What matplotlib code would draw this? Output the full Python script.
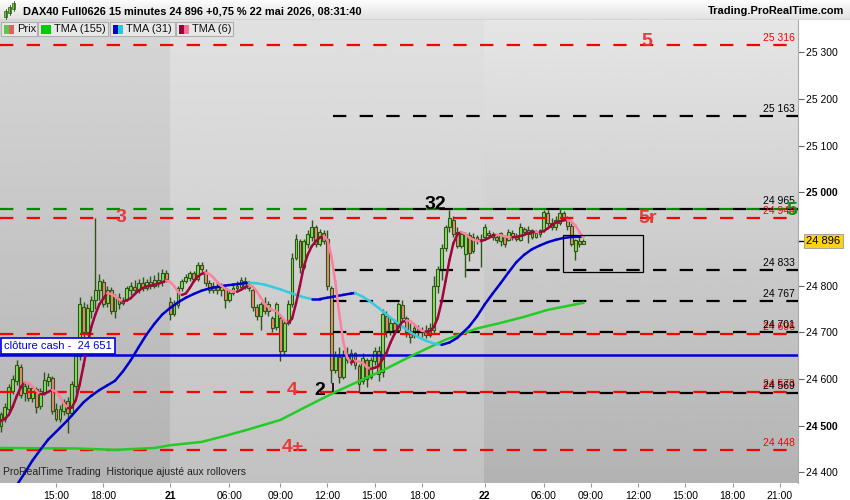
import numpy as np
import pandas as pd
import matplotlib
matplotlib.use("Agg")
import matplotlib.pyplot as plt
from matplotlib.collections import LineCollection
from matplotlib.patches import Rectangle

plt.rcParams['font.family'] = ['Liberation Sans', 'DejaVu Sans']

# DAX40 15 minutes, bar 0 = 20 mai 11:15 ... last bar = 22 mai 08:30
opens = [24495, 24500, 24515, 24535, 24575, 24595, 24625, 24570, 24580, 24560,
         24578, 24542, 24572, 24596, 24602, 24535, 24515, 24532, 24552, 24528,
         24585, 24650, 24755, 24700, 24745, 24770, 24790, 24808, 24762, 24790,
         24745, 24775, 24762, 24772, 24790, 24798, 24790, 24805, 24795, 24808,
         24800, 24812, 24808, 24826, 24765, 24740, 24758, 24795, 24810, 24816,
         24826, 24815, 24845, 24830, 24805, 24790, 24800, 24790, 24795, 24770,
         24785, 24795, 24798, 24810, 24800, 24790, 24755, 24735, 24760, 24745,
         24730, 24712, 24730, 24660, 24720, 24760, 24860, 24895, 24840, 24890,
         24905, 24925, 24890, 24912, 24900, 24795, 24620, 24648, 24605, 24650,
         24640, 24655, 24628, 24595, 24640, 24605, 24638, 24660, 24615, 24735,
         24700, 24720, 24705, 24758, 24730, 24702, 24695, 24710, 24700, 24705,
         24695, 24705, 24800, 24835, 24880, 24925, 24940, 24915, 24885, 24868,
         24908, 24875, 24903, 24895, 24905, 24912, 24908, 24903, 24895, 24905,
         24898, 24912, 24905, 24898, 24922, 24910, 24918, 24905, 24910, 24918,
         24955, 24935, 24925, 24935, 24955, 24942, 24928, 24875, 24895, 24890]
highs = [24515, 24530, 24548, 24590, 24608, 24640, 24632, 24592, 24590, 24588,
         24582, 24580, 24615, 24612, 24606, 24548, 24545, 24558, 24562, 24595,
         24660, 24776, 24765, 24760, 24778, 24945, 24825, 24815, 24800, 24798,
         24782, 24785, 24775, 24800, 24808, 24812, 24815, 24818, 24815, 24820,
         24822, 24830, 24835, 24833, 24775, 24770, 24800, 24815, 24825, 24832,
         24832, 24850, 24850, 24835, 24812, 24808, 24810, 24805, 24800, 24790,
         24805, 24810, 24818, 24818, 24810, 24795, 24760, 24765, 24775, 24768,
         24735, 24765, 24740, 24726, 24770, 24870, 24910, 24900, 24900, 24920,
         24941, 24930, 24922, 24918, 24920, 24800, 24660, 24668, 24662, 24668,
         24665, 24658, 24632, 24655, 24645, 24648, 24668, 24670, 24750, 24745,
         24730, 24728, 24765, 24770, 24735, 24720, 24715, 24715, 24712, 24715,
         24720, 24820, 24842, 24890, 24930, 24962, 24950, 24925, 24915, 24915,
         24915, 24912, 24908, 24910, 24932, 24918, 24915, 24908, 24915, 24908,
         24922, 24918, 24912, 24934, 24926, 24928, 24922, 24918, 24922, 24962,
         24962, 24945, 24948, 24966, 24960, 24948, 24935, 24900, 24904, 24900]
lows = [24478, 24486, 24508, 24530, 24568, 24588, 24560, 24552, 24552, 24550,
        24528, 24535, 24565, 24585, 24525, 24510, 24508, 24522, 24484, 24520,
        24570, 24640, 24690, 24695, 24730, 24750, 24770, 24755, 24755, 24740,
        24730, 24750, 24758, 24768, 24780, 24782, 24785, 24788, 24790, 24792,
        24795, 24798, 24800, 24808, 24726, 24735, 24752, 24788, 24805, 24810,
        24810, 24810, 24830, 24800, 24785, 24785, 24782, 24778, 24752, 24765,
        24780, 24790, 24790, 24793, 24788, 24745, 24726, 24705, 24740, 24735,
        24700, 24705, 24638, 24651, 24715, 24755, 24855, 24828, 24835, 24880,
        24895, 24882, 24885, 24888, 24790, 24591, 24612, 24591, 24600, 24635,
        24630, 24622, 24575, 24590, 24583, 24600, 24630, 24595, 24605, 24690,
        24695, 24698, 24700, 24722, 24690, 24677, 24688, 24692, 24690, 24688,
        24690, 24698, 24785, 24812, 24875, 24915, 24905, 24880, 24880, 24818,
        24852, 24870, 24888, 24840, 24900, 24903, 24898, 24892, 24885, 24882,
        24895, 24898, 24895, 24895, 24910, 24892, 24900, 24902, 24905, 24915,
        24928, 24918, 24920, 24930, 24940, 24920, 24885, 24855, 24882, 24888]
closes = [24505, 24525, 24540, 24583, 24600, 24630, 24565, 24585, 24560, 24580,
          24540, 24575, 24598, 24604, 24532, 24515, 24535, 24550, 24528, 24590,
          24650, 24760, 24700, 24752, 24770, 24790, 24810, 24760, 24790, 24745,
          24775, 24760, 24770, 24795, 24800, 24790, 24805, 24795, 24808, 24800,
          24812, 24805, 24828, 24815, 24740, 24760, 24795, 24810, 24818, 24828,
          24815, 24845, 24835, 24805, 24790, 24800, 24790, 24798, 24770, 24785,
          24795, 24800, 24812, 24800, 24795, 24755, 24735, 24760, 24745, 24760,
          24710, 24760, 24660, 24720, 24760, 24860, 24900, 24840, 24895, 24910,
          24925, 24890, 24915, 24895, 24800, 24620, 24650, 24605, 24650, 24640,
          24655, 24630, 24590, 24645, 24600, 24640, 24660, 24610, 24740, 24700,
          24720, 24705, 24760, 24730, 24700, 24690, 24710, 24700, 24705, 24695,
          24710, 24800, 24835, 24880, 24925, 24945, 24910, 24885, 24910, 24910,
          24870, 24905, 24895, 24900, 24925, 24908, 24905, 24898, 24912, 24890,
          24915, 24905, 24900, 24925, 24915, 24920, 24905, 24912, 24918, 24958,
          24935, 24925, 24940, 24955, 24945, 24928, 24890, 24898, 24888, 24896]

# TMA (31) and TMA (155) at some bars
tma31_bars = [5, 7, 9, 11, 13, 16, 18, 20, 22, 24, 26, 28, 30, 32, 34, 36, 38, 40, 42,
              44, 46, 48, 50, 52, 54, 56, 58, 60, 62, 64, 66, 68, 70, 72, 74, 76, 78,
              80, 82, 84, 86, 88, 90, 91, 93, 95, 97, 99, 101, 103, 105, 107, 109, 111,
              113, 115, 117, 120, 122, 124, 126, 128, 130, 132, 134, 136, 138, 140, 142,
              144, 146, 149]
tma31_vals = [24372, 24398, 24425, 24448, 24470, 24495, 24512, 24531, 24550, 24564,
              24576, 24586, 24596, 24616, 24640, 24668, 24695, 24718, 24738, 24752,
              24764, 24774, 24782, 24789, 24794, 24797, 24800, 24802, 24804, 24806,
              24805, 24802, 24797, 24792, 24786, 24780, 24775, 24771, 24771, 24774,
              24777, 24780, 24783, 24784, 24776, 24765, 24752, 24738, 24725, 24712,
              24700, 24690, 24682, 24676, 24673, 24678, 24688, 24712, 24734, 24760,
              24783, 24805, 24828, 24850, 24866, 24878, 24886, 24893, 24898, 24902,
              24904, 24905]
tma155_bars = [0, 20, 30, 40, 44, 52, 58, 64, 72, 78, 86, 92, 98, 106, 114, 122, 128,
               134, 140, 149]
tma155_vals = [24452, 24451, 24448, 24452, 24458, 24465, 24478, 24492, 24512, 24538,
               24572, 24595, 24618, 24652, 24684, 24708, 24720, 24733, 24748, 24763]

# levels drawn on the chart
red_levels = [25316, 24944, 24696, 24573, 24448]
black_levels = [25163, 24965, 24833, 24767, 24701, 24569]
green_level = 24965
cash_close = 24651
black_start = 85.4

zone_texts = ["5", "3", "32", "5r", "4", "2", "4+"]
zone_bars = [165.2, 31.5, 111.3, 165.5, 75.0, 82.1, 75.2]
zone_prices = [25322, 24945, 24973, 24943, 24576, 24576, 24454]
zone_red = [True, True, False, True, True, False, True]

box_bars = (143.9, 164.2)
box_prices = (24829, 24908)

tick_bars = [15, 27, 44, 59, 72, 84, 96, 108, 124, 139, 151, 163, 175, 187, 199]
tick_labels = ["15:00", "18:00", "21", "06:00", "09:00", "12:00", "15:00", "18:00",
               "22", "06:00", "09:00", "12:00", "15:00", "18:00", "21:00"]
price_ticks = [24400, 24500, 24600, 24700, 24800, 25000, 25100, 25200, 25300]
day_starts = [43.9, 123.8]

xmin, xmax = 0.76, 203.6
ymin, ymax = 24377, 25369


def fmt(v):
    return f"{v:,}".replace(",", " ")


def slope_line(ax, xs, ys, up, down, lw, z):
    pts = np.column_stack([xs, ys])
    segs = np.stack([pts[:-1], pts[1:]], axis=1)
    cols = [up if b >= a else down for a, b in zip(ys[:-1], ys[1:])]
    ax.add_collection(LineCollection(segs, colors=cols, linewidths=lw,
                                     capstyle='round', joinstyle='round', zorder=z))


fig = plt.figure(figsize=(8.5, 5), dpi=100)
fig.patch.set_facecolor('white')
ax = fig.add_axes([0, 17 / 500, 798 / 850, 463 / 500])
ax.set_xlim(xmin, xmax)
ax.set_ylim(ymin, ymax)

# background, one gradient per day
regions = [(xmin, day_starts[0], 0.84, 0.70),
           (day_starts[0], day_starts[1], 0.88, 0.76),
           (day_starts[1], xmax, 0.90, 0.70)]
for x0, x1, top, bot in regions:
    grad = np.linspace(top, bot, 256).reshape(-1, 1)
    ax.imshow(grad, cmap='gray', vmin=0, vmax=1, aspect='auto', origin='upper',
              extent=[x0, x1, ymin, ymax], zorder=0, interpolation='bilinear')

# levels
red = '#ff0000'
for v in red_levels:
    ax.axhline(v, color=red, lw=1.6, dashes=(6, 6), zorder=6)
ax.axhline(green_level, color='#008800', lw=1.6, dashes=(6, 6), zorder=6)
for v in black_levels:
    ax.plot([black_start, xmax], [v, v], color='black', lw=1.6, dashes=(6, 6), zorder=6)
ax.vlines(black_start, black_levels[-1], 24591, color='black', lw=1.2, zorder=6)
ax.axhline(cash_close, color='#0000dd', lw=1.8, zorder=6)

for v in red_levels:
    ax.annotate(fmt(v), xy=(1, v), xycoords=('axes fraction', 'data'), xytext=(-2, 1.5),
                textcoords='offset points', ha='right', va='bottom', fontsize=7.5,
                color=red, zorder=9)
for v in black_levels:
    ax.annotate(fmt(v), xy=(1, v), xycoords=('axes fraction', 'data'), xytext=(-2, 1.5),
                textcoords='offset points', ha='right', va='bottom', fontsize=7.5,
                color='black', zorder=9)
ax.text(200.6, green_level - 5, "5", color='#109010', fontsize=14, fontweight='bold',
        va='center', ha='left', zorder=9, clip_on=True)

# candles
o = np.array(opens)
h = np.array(highs)
lo = np.array(lows)
c = np.array(closes)
idx = np.arange(len(c))
edge = '#2c5518'
ax.vlines(idx, lo, h, color=edge, lw=1.0, zorder=4)
ax.bar(idx, np.maximum(np.abs(c - o), 1.5), bottom=np.minimum(o, c), width=0.72,
       color=np.where(c >= o, '#86e05a', '#ec8a70'), edgecolor=edge, linewidth=0.8,
       zorder=5)

# moving averages
ax.plot(tma155_bars, tma155_vals, color='#22cc22', lw=1.8, zorder=7)
slope_line(ax, tma31_bars, tma31_vals, '#0000cc', '#33ccdd', 1.8, 8)
s3 = pd.Series(closes).rolling(3, min_periods=1).mean()
tma6 = s3.rolling(4, min_periods=1).mean().to_numpy()
slope_line(ax, idx, tma6, '#a0063c', '#ff7f9f', 1.8, 8)

# zone labels
for t, xb, yp, isred in zip(zone_texts, zone_bars, zone_prices, zone_red):
    ax.text(xb, yp, t, color='#e83a3a' if isred else 'black', fontsize=14,
            fontweight='bold', ha='center', va='center', zorder=10)

ax.add_patch(Rectangle((box_bars[0], box_prices[0]), box_bars[1] - box_bars[0],
                       box_prices[1] - box_prices[0], fill=False, ec='black', lw=0.9,
                       zorder=9))

ax.annotate("clôture cash -  " + fmt(cash_close), xy=(0, cash_close),
            xycoords=('axes fraction', 'data'), xytext=(3, 3), textcoords='offset points',
            ha='left', va='bottom', fontsize=8, color='#0000dd', zorder=11,
            bbox=dict(boxstyle='square,pad=0.25', fc='white', ec='#0000dd', lw=1.2))

# last price
ax.plot([1, 1.008], [closes[-1], closes[-1]], transform=ax.get_yaxis_transform(),
        color='black', lw=1, clip_on=False)
ax.annotate(fmt(closes[-1]), xy=(1, closes[-1]), xycoords=('axes fraction', 'data'),
            xytext=(6, 0), textcoords='offset points', ha='left', va='center',
            fontsize=8, annotation_clip=False, zorder=12,
            bbox=dict(boxstyle='square,pad=0.2', fc='#fcd116', ec='#999999', lw=0.6))

# axes
ax.yaxis.tick_right()
ax.set_yticks(price_ticks)
ax.set_yticklabels([fmt(v) for v in price_ticks])
for lab in ax.get_yticklabels():
    if lab.get_text() in ("25 000", "24 500"):
        lab.set_fontweight('bold')
        lab.set_fontsize(8.5)
ax.tick_params(axis='y', direction='out', length=4, width=0.8, color='#666666',
               labelsize=7.5, pad=2)
ax.set_xticks(tick_bars)
ax.set_xticklabels(tick_labels)
for lab in ax.get_xticklabels():
    if lab.get_text() in ("21", "22"):
        lab.set_fontweight('bold')
        lab.set_fontsize(9)
ax.tick_params(axis='x', direction='out', length=3, width=0.8, color='#999999',
               labelsize=7.5, pad=3)
for s in ('top', 'left', 'bottom'):
    ax.spines[s].set_visible(False)
ax.spines['right'].set_color('#aaaaaa')

ax.text(0.004, 0.012, "ProRealTime Trading  Historique ajusté aux rollovers",
        transform=ax.transAxes, fontsize=7.5, color='#222222', ha='left', va='bottom',
        zorder=12)

# title bar
axt = fig.add_axes([0, 0.96, 1, 0.04])
axt.imshow(np.linspace(0.99, 0.88, 64).reshape(-1, 1), cmap='gray', vmin=0, vmax=1,
           aspect='auto', extent=[0, 850, 20, 0])
axt.set_xlim(0, 850)
axt.set_ylim(20, 0)
axt.axis('off')
axt.axhline(19.5, color='#a0a0a0', lw=1)
for xi, y0, y1 in [(6, 11, 17), (10, 7, 13), (14, 3, 9)]:
    axt.plot([xi, xi], [y0 - 2, y1 + 2], color='#2c5518', lw=0.6)
    axt.add_patch(Rectangle((xi - 1.5, y0), 3, y1 - y0, fc='#6cd040', ec='#2c5518', lw=0.5))
axt.text(23, 11, "DAX40 Full0626 15 minutes 24 896 +0,75 % 22 mai 2026, 08:31:40",
         fontsize=7.9, fontweight='bold', va='center', ha='left')
axt.text(844, 11, "Trading.ProRealTime.com", fontsize=7.9, fontweight='bold',
         va='center', ha='right')

# legend row
ov = fig.add_axes([0, 0, 1, 1])
ov.set_xlim(0, 850)
ov.set_ylim(500, 0)
ov.axis('off')
ov.patch.set_alpha(0)
legend_items = [("Prix", 1, 37, '#5bc84a', '#e06060'),
                ("TMA (155)", 38, 108, '#00cc00', '#00cc00'),
                ("TMA (31)", 110, 175, '#0000cc', '#22ccdd'),
                ("TMA (6)", 176, 233, '#99003a', '#ff6f9a')]
for name, x0, x1, c1, c2 in legend_items:
    ov.add_patch(Rectangle((x0, 22), x1 - x0, 14, fc='#e8e8e8', ec='#b0b0b0', lw=0.8))
    ov.add_patch(Rectangle((x0 + 3, 24.5), 5, 9, fc=c1, ec='none'))
    ov.add_patch(Rectangle((x0 + 8, 24.5), 5, 9, fc=c2, ec='none'))
    ov.text(x0 + 16, 29.5, name, fontsize=8, va='center', ha='left', color='#111111')

fig.savefig("out.png", dpi=100)
